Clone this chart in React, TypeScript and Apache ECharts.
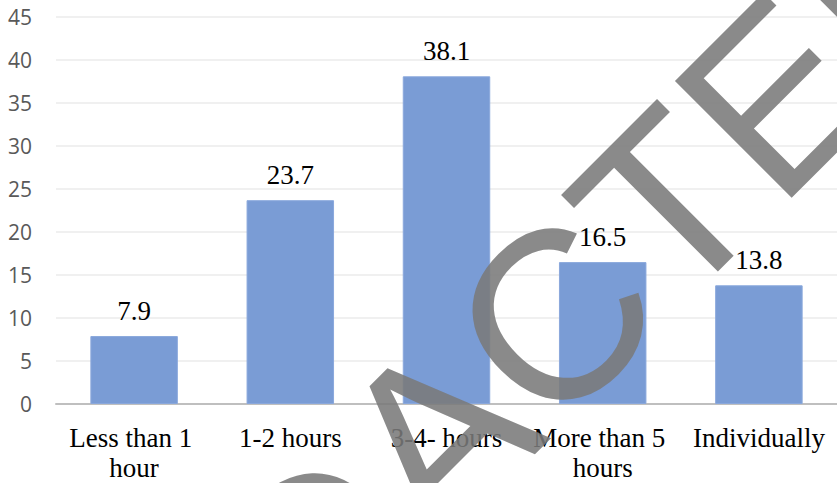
import React, { useEffect, useRef } from "react";
import * as echarts from "echarts";

const categories = ["Less than 1 hour", "1-2 hours", "3-4- hours", "More than 5 hours", "Individually"];
const values = [7.9, 23.7, 38.1, 16.5, 13.8];
const yTicks = { min: 0, max: 45, interval: 5 };
const watermarkText = "REDACTED";

export default function App() {
  const ref = useRef<HTMLDivElement>(null);
  useEffect(() => {
    if (!ref.current) return;
    const chart = echarts.init(ref.current, null, { renderer: "svg" });
    chart.setOption({
      animation: false,
      backgroundColor: "#ffffff",
      grid: { left: 56, right: -8, top: 17, bottom: 74 },
      xAxis: {
        type: "category",
        data: categories,
        axisTick: { show: false },
        axisLine: { lineStyle: { color: "#bfbfbf", width: 2 } },
        axisLabel: {
          interval: 0,
          margin: 19,
          color: "#000000",
          fontFamily: "'Liberation Serif', 'Times New Roman', serif",
          fontSize: 27,
          lineHeight: 30,
          width: 150,
          overflow: "break",
        },
      },
      yAxis: {
        type: "value",
        min: yTicks.min,
        max: yTicks.max,
        interval: yTicks.interval,
        axisLine: { show: false },
        axisTick: { show: false },
        splitLine: { lineStyle: { color: "#ebebeb", width: 1.5 } },
        axisLabel: {
          margin: 24,
          color: "#595959",
          fontFamily: "'Open Sans', sans-serif",
          fontSize: 21,
        },
      },
      series: [
        {
          type: "bar",
          data: values,
          barWidth: "56%",
          itemStyle: { color: "#7A9CD5", borderColor: "#8aa8dc", borderWidth: 1 },
          label: {
            show: true,
            position: "top",
            distance: 12,
            color: "#000000",
            fontFamily: "'Liberation Serif', 'Times New Roman', serif",
            fontSize: 27,
          },
        },
      ],
      graphic: [
        {
          type: "text",
          x: 488,
          y: 384,
          rotation: Math.PI / 4,
          z: 100,
          silent: true,
          style: {
            text: watermarkText,
            x: 0,
            y: 0,
            fill: "rgba(122,122,122,0.88)",
            font: "240px 'Liberation Sans', Arial, sans-serif",
            fontSize: 240,
            fontFamily: "'Liberation Sans', Arial, sans-serif",
            align: "center",
            verticalAlign: "middle",
            textAlign: "center",
            textVerticalAlign: "middle",
          },
        },
      ],
    });
    return () => chart.dispose();
  }, []);
  return (
    <div
      ref={ref}
      style={{ position: "fixed", left: 0, top: 0, width: 837, height: 483 }}
    />
  );
}
